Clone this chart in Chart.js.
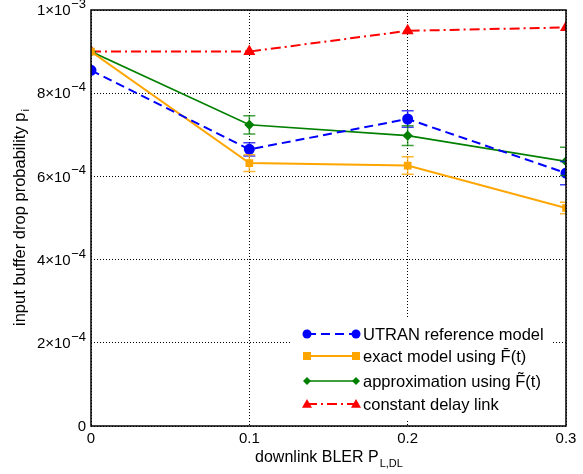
<!DOCTYPE html>
<html>
<head>
<meta charset="utf-8">
<script src="https://cdn.jsdelivr.net/npm/chart.js@4/dist/chart.umd.min.js"></script>
<style>
  html, body { margin: 0; padding: 0; background: #fff; }
  canvas { display: block; }
</style>
</head>
<body>
<canvas id="c" width="583" height="474"></canvas>
<script>
// ---- data ----
const xValues = [0, 0.1, 0.2, 0.3];
const utran = [8.55e-4, 6.65e-4, 7.38e-4, 6.08e-4];
const utranErr = [0, 0.16e-4, 0.2e-4, 0.28e-4];
const exact = [9.0e-4, 6.32e-4, 6.26e-4, 5.24e-4];
const exactErr = [0, 0.2e-4, 0.21e-4, 0.14e-4];
const approx = [9.0e-4, 7.24e-4, 6.98e-4, 6.36e-4];
const approxErr = [0, 0.22e-4, 0.24e-4, 0.34e-4];
const constDelay = [9.0e-4, 9.0e-4, 9.5e-4, 9.58e-4];

const seriesLabels = ['UTRAN reference model', 'exact model using F\u0304(t)', 'approximation using F\u0303(t)', 'constant delay link'];
const yTickValues = [0, 2e-4, 4e-4, 6e-4, 8e-4, 1e-3];
const yTickMantissa = ['0', '2\u00d710', '4\u00d710', '6\u00d710', '8\u00d710', '1\u00d710'];
const yTickExponent = ['', '\u22124', '\u22124', '\u22124', '\u22124', '\u22123'];
const xTitle = 'downlink BLER P';
const xTitleSub = 'L,DL';
const yTitle = 'input buffer drop probability p';
const yTitleSub = 'i';

const FONT = '"Liberation Sans", Arial, Helvetica, sans-serif';

function pts(ys) { return xValues.map((x, i) => ({ x: x, y: ys[i] })); }

const datasets = [
  { label: seriesLabels[0], data: pts(utran), err: utranErr, borderColor: '#0000ff', backgroundColor: '#0000ff',
    borderWidth: 2, borderDash: [9, 5], pointStyle: 'circle', pointRadius: 4.5, errColor: 'rgba(0,0,255,0.75)' },
  { label: seriesLabels[1], data: pts(exact), err: exactErr, borderColor: '#ffa500', backgroundColor: '#ffa500',
    borderWidth: 2, borderDash: [], pointStyle: 'rect', pointRadius: 4, errColor: 'rgba(255,165,0,0.8)' },
  { label: seriesLabels[2], data: pts(approx), err: approxErr, borderColor: '#008000', backgroundColor: '#008000',
    borderWidth: 1.6, borderDash: [], pointStyle: 'rectRot', pointRadius: 4, errColor: 'rgba(0,128,0,0.75)' },
  { label: seriesLabels[3], data: pts(constDelay), err: null, borderColor: '#ff0000', backgroundColor: '#ff0000',
    borderWidth: 2, borderDash: [10, 4, 2, 4], pointStyle: 'triangle', pointRadius: 5, errColor: null }
];

function drawMarker(ctx, style, r, x, y, color) {
  ctx.save();
  ctx.fillStyle = color;
  ctx.strokeStyle = color;
  ctx.setLineDash([]);
  ctx.beginPath();
  if (style === 'circle') {
    ctx.arc(x, y, r, 0, Math.PI * 2);
  } else if (style === 'rect') {
    ctx.rect(x - r, y - r, 2 * r, 2 * r);
  } else if (style === 'rectRot') {
    ctx.moveTo(x, y - r); ctx.lineTo(x + r, y); ctx.lineTo(x, y + r); ctx.lineTo(x - r, y); ctx.closePath();
  } else if (style === 'triangle') {
    ctx.moveTo(x, y - r); ctx.lineTo(x + r, y + r * 0.75); ctx.lineTo(x - r, y + r * 0.75); ctx.closePath();
  }
  ctx.fill();
  ctx.restore();
}

const decorPlugin = {
  id: 'decor',
  afterDatasetsDraw(chart) {
    const ctx = chart.ctx, ca = chart.chartArea;
    const xs = chart.scales.x, ys = chart.scales.y;
    ctx.save();
    ctx.beginPath();
    ctx.rect(ca.left, ca.top, ca.right - ca.left, ca.bottom - ca.top);
    ctx.clip();
    chart.data.datasets.forEach(ds => {
      if (!ds.err) return;
      ctx.strokeStyle = ds.errColor;
      ctx.lineWidth = 1.5;
      ctx.setLineDash([]);
      ds.data.forEach((p, i) => {
        const e = ds.err[i];
        if (!e) return;
        const px = xs.getPixelForValue(p.x);
        const y1 = ys.getPixelForValue(p.y + e), y2 = ys.getPixelForValue(p.y - e);
        ctx.beginPath();
        ctx.moveTo(px, y1); ctx.lineTo(px, y2);
        ctx.moveTo(px - 6, y1); ctx.lineTo(px + 6, y1);
        ctx.moveTo(px - 6, y2); ctx.lineTo(px + 6, y2);
        ctx.stroke();
      });
    });
    ctx.restore();
  },
  afterDraw(chart) {
    const ctx = chart.ctx, ca = chart.chartArea;
    const ys = chart.scales.y;
    ctx.save();
    ctx.strokeStyle = '#000';
    ctx.lineWidth = 1.5;
    ctx.setLineDash([]);
    ctx.strokeRect(ca.left, ca.top, ca.right - ca.left, ca.bottom - ca.top);

    // y tick labels with superscripts
    ctx.fillStyle = '#000';
    yTickValues.forEach((v, i) => {
      const py = ys.getPixelForValue(v);
      const right = ca.left - 5;
      ctx.font = '13px ' + FONT;
      const ew = yTickExponent[i] ? ctx.measureText(yTickExponent[i]).width : 0;
      if (yTickExponent[i]) {
        ctx.textAlign = 'right';
        ctx.textBaseline = 'alphabetic';
        ctx.fillText(yTickExponent[i], right, py - 2);
      }
      ctx.font = '15px ' + FONT;
      ctx.textAlign = 'right';
      ctx.textBaseline = 'middle';
      ctx.fillText(yTickMantissa[i], right - ew - (ew ? 0.5 : 0), py + 1);
    });

    // x title with subscript
    ctx.font = '16px ' + FONT;
    const w1 = ctx.measureText(xTitle).width;
    ctx.font = '11px ' + FONT;
    const w2 = ctx.measureText(xTitleSub).width;
    const cx = (ca.left + ca.right) / 2;
    let sx = cx - (w1 + w2) / 2;
    ctx.textAlign = 'left';
    ctx.textBaseline = 'alphabetic';
    ctx.font = '16px ' + FONT;
    ctx.fillText(xTitle, sx, 462);
    ctx.font = '11px ' + FONT;
    ctx.fillText(xTitleSub, sx + w1 + 1, 467);

    // y title with subscript (rotated)
    ctx.save();
    ctx.translate(25, (ca.top + ca.bottom) / 2);
    ctx.rotate(-Math.PI / 2);
    ctx.font = '16.5px ' + FONT;
    const t1 = ctx.measureText(yTitle).width;
    ctx.font = '11.5px ' + FONT;
    const t2 = ctx.measureText(yTitleSub).width;
    let tx = -(t1 + t2) / 2;
    ctx.font = '16.5px ' + FONT;
    ctx.fillText(yTitle, tx, 0);
    ctx.font = '11.5px ' + FONT;
    ctx.fillText(yTitleSub, tx + t1 + 1, 4);
    ctx.restore();

    // legend
    ctx.fillStyle = '#fff';
    ctx.fillRect(290, 318, 263, 101);
    const rowsY = [334, 356, 381, 404];
    chart.data.datasets.forEach((ds, i) => {
      const y = rowsY[i];
      ctx.strokeStyle = ds.borderColor;
      ctx.lineWidth = ds.borderWidth;
      ctx.setLineDash(ds.borderDash || []);
      ctx.beginPath();
      ctx.moveTo(307, y); ctx.lineTo(356, y);
      ctx.stroke();
      drawMarker(ctx, ds.pointStyle, ds.pointRadius, 307, y, ds.borderColor);
      drawMarker(ctx, ds.pointStyle, ds.pointRadius, 356, y, ds.borderColor);
      ctx.fillStyle = '#000';
      ctx.font = '16.5px ' + FONT;
      ctx.textAlign = 'left';
      ctx.textBaseline = 'middle';
      ctx.fillText(ds.label, 363, y + 1);
    });
    ctx.restore();
  }
};

new Chart(document.getElementById('c'), {
  type: 'line',
  data: { datasets: datasets },
  options: {
    responsive: false,
    animation: false,
    layout: { padding: { top: 10, right: 17, left: 0, bottom: 0 } },
    plugins: { legend: { display: false }, tooltip: { enabled: false } },
    scales: {
      x: {
        type: 'linear', min: 0, max: 0.3,
        border: { display: false, dash: [1, 2] },
        grid: { color: '#000', lineWidth: 1, drawTicks: false },
        ticks: { stepSize: 0.1, color: '#000', font: { size: 15, family: FONT }, padding: 4, maxRotation: 0,
                 callback: v => String(Math.round(v * 10) / 10) },
        afterFit: s => { s.height = 48; }
      },
      y: {
        type: 'linear', min: 0, max: 1e-3,
        border: { display: false, dash: [1, 2] },
        grid: { color: '#000', lineWidth: 1, drawTicks: false },
        ticks: { stepSize: 2e-4, display: false },
        afterFit: s => { s.width = 91; }
      }
    },
    elements: { line: { tension: 0 } }
  },
  plugins: [decorPlugin]
});
</script>
</body>
</html>
